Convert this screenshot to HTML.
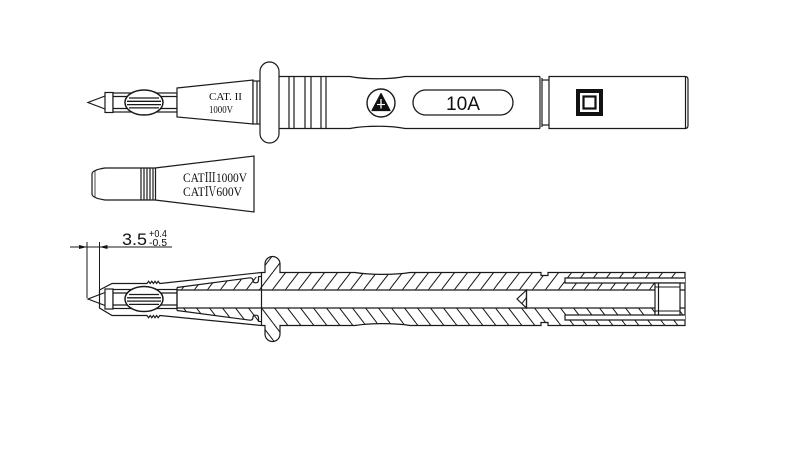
<!DOCTYPE html>
<html><head><meta charset="utf-8"><style>
html,body{margin:0;padding:0;background:#fff;}
svg{display:block;}
</style></head><body>
<svg width="800" height="464" viewBox="0 0 800 464" xmlns="http://www.w3.org/2000/svg">
<defs>
<pattern id="hT" patternUnits="userSpaceOnUse" width="13" height="17"><path d="M0,17 L13,0 M-13,17 L0,0 M13,17 L26,0" stroke="#1a1a1a" stroke-width="1"/></pattern>
<pattern id="hB" patternUnits="userSpaceOnUse" width="13" height="17"><path d="M0,0 L13,17 M-13,0 L0,17 M13,0 L26,17" stroke="#1a1a1a" stroke-width="1"/></pattern>
<g id="pin">
<path d="M105,96 L88,102.5 L105,109" fill="#fff"/>
<rect x="105" y="92.5" width="8" height="20" fill="#fff"/>
<rect x="113" y="93" width="64" height="19" fill="#fff"/>
<line x1="113" y1="96.5" x2="177" y2="96.5"/>
<line x1="113" y1="108.5" x2="177" y2="108.5"/>
<ellipse cx="144" cy="102.5" rx="19" ry="12.5" fill="#fff" stroke-width="1.5"/>
<line x1="129" y1="98" x2="159" y2="98" stroke-width="1.3"/>
<line x1="127" y1="101.3" x2="161" y2="101.3" stroke-width="1.3"/>
<line x1="127" y1="104.6" x2="161" y2="104.6" stroke-width="1.3"/>
<line x1="129" y1="107.9" x2="159" y2="107.9" stroke-width="1.3"/>
</g>
</defs>

<g stroke="#1a1a1a" stroke-width="1.2" fill="none">
<!-- ===== TOP PROBE ===== -->
<use href="#pin"/>
<polygon points="177,88 253,80 253,124 177,117" fill="#fff"/>
<rect x="253" y="81" width="7" height="43" fill="#fff"/>
<line x1="257" y1="81" x2="257" y2="124"/>
<path d="M279,76.5 H350 C365,79.5 390,79.5 405,76.5 H540"/>
<path d="M279,128.5 H350 C365,125.5 390,125.5 405,128.5 H540"/>
<line x1="289" y1="76.5" x2="289" y2="128.5"/>
<line x1="294" y1="76.5" x2="294" y2="128.5"/>
<line x1="305" y1="76.5" x2="305" y2="128.5"/>
<line x1="311" y1="76.5" x2="311" y2="128.5"/>
<line x1="321" y1="76.5" x2="321" y2="128.5"/>
<line x1="326" y1="76.5" x2="326" y2="128.5"/>
<line x1="540" y1="76.5" x2="540" y2="128.5"/>
<line x1="542" y1="78" x2="542" y2="127"/>
<line x1="542" y1="80" x2="549" y2="80"/>
<line x1="542" y1="125" x2="549" y2="125"/>
<path d="M549,76.5 H685 Q688,76.5 688,79.5 V125.5 Q688,128.5 685,128.5 H549 Z"/>
<line x1="685.5" y1="77" x2="685.5" y2="128"/>
<rect x="260" y="62" width="19" height="81" rx="9.5" fill="#fff"/>
<!-- warning -->
<circle cx="381" cy="103" r="14" stroke-width="1.4"/>
<polygon points="381,93.5 372,110.5 390,110.5" fill="#111" stroke="#111" stroke-linejoin="round"/>
<line x1="381" y1="99" x2="381" y2="108.5" stroke="#fff" stroke-width="1.3"/>
<line x1="377" y1="104.5" x2="385" y2="104.5" stroke="#fff" stroke-width="1.1"/>
<rect x="413" y="90" width="100" height="25" rx="12.5" stroke-width="1.3"/>
<!-- double insulation -->
<rect x="576" y="89" width="27" height="27" fill="#111" stroke="none"/>
<rect x="580" y="93" width="19" height="19" fill="#fff" stroke="none"/>
<rect x="583.5" y="96.5" width="12" height="12" fill="none" stroke="#111" stroke-width="2.2"/>

<!-- ===== CAP ===== -->
<path d="M92,174 Q92,170 105,168 H155 L254,156 V212 L155,200 H105 Q92,198 92,194 Z" fill="#fff"/>
<line x1="95" y1="171" x2="95" y2="197" stroke-width="0.8"/>
<line x1="141" y1="168" x2="141" y2="200"/>
<line x1="144" y1="168" x2="144" y2="200"/>
<line x1="147" y1="168" x2="147" y2="200"/>
<line x1="150" y1="168" x2="150" y2="200"/>
<line x1="153" y1="168" x2="153" y2="200"/>
<line x1="155.5" y1="168" x2="155.5" y2="200"/>

<!-- ===== SECTION VIEW ===== -->
<!-- dimension -->
<line x1="70" y1="247" x2="172" y2="247" stroke-width="1"/>
<line x1="87" y1="242" x2="87" y2="298" stroke-width="1"/>
<line x1="99.5" y1="242" x2="99.5" y2="290" stroke-width="1"/>
<polygon points="87,247 79,245 79,249" fill="#111" stroke="none"/>
<polygon points="99.5,247 107.5,245 107.5,249" fill="#111" stroke="none"/>

<!-- hatch regions -->
<path d="M177,287.5 L261.5,276.3 V290 H177 Z" fill="url(#hT)" stroke="none"/>
<path d="M177,310.5 L261.5,321.7 V308 H177 Z" fill="url(#hB)" stroke="none"/>
<path d="M261.5,272.5 H265 V264 A7.5,7.5 0 0 1 280,264 V272.5 H355 C370,275 395,275 410,272.5 H541 V275.5 H548 V272.5 H685 V290 H261.5 Z" fill="url(#hT)" stroke="none"/>
<path d="M261.5,325.5 H265 V334 A7.5,7.5 0 0 0 280,334 V325.5 H355 C370,323 395,323 410,325.5 H541 V322.5 H548 V325.5 H685 V308 H261.5 Z" fill="url(#hB)" stroke="none"/>
<rect x="177" y="290.6" width="508" height="16.8" fill="#fff" stroke="none"/>

<!-- pin -->
<g transform="translate(0,196.5)"><use href="#pin"/></g>

<!-- sheath -->
<path d="M99.5,290 L112,283.5 H147 l1.6,-2.2 l1.6,2.2 l1.6,-2.2 l1.6,2.2 l1.6,-2.2 l1.6,2.2 l1.6,-2.2 l1.6,2.2 H160 L261.5,272.5"/>
<path d="M99.5,290 V308 L112,315.5 H147 l1.6,2.2 l1.6,-2.2 l1.6,2.2 l1.6,-2.2 l1.6,2.2 l1.6,-2.2 l1.6,2.2 l1.6,-2.2 H160 L261.5,325.5"/>
<path d="M177,287.5 L250,277.8 q3,0 3,3 q0,2 3,2 q2.5,0 2.5,-3 V276.7 L261.5,276.3"/>
<path d="M177,310.5 L250,320.2 q3,0 3,-3 q0,-2 3,-2 q2.5,0 2.5,3 V321.3 L261.5,321.7"/>
<line x1="177" y1="287.5" x2="177" y2="310.5"/>
<line x1="261.5" y1="272.5" x2="261.5" y2="325.5"/>

<!-- main body outline -->
<path d="M261.5,272.5 H265 V264 A7.5,7.5 0 0 1 280,264 V272.5 H355 C370,275 395,275 410,272.5 H541 V275.5 H548 V272.5 H685 V325.5 H548 V322.5 H541 V325.5 H410 C395,323 370,323 355,325.5 H280 V334 A7.5,7.5 0 0 1 265,334 V325.5 H261.5"/>
<line x1="177" y1="290" x2="685" y2="290"/>
<line x1="177" y1="308" x2="685" y2="308"/>
<path d="M526.5,290 L517,299 L526.5,308 Z" fill="url(#hT)"/>
<line x1="526.5" y1="290" x2="526.5" y2="308"/>

<!-- right slots -->
<path d="M685,278 H565 V283 H685" fill="#fff"/>
<path d="M685,320 H565 V315 H685" fill="#fff"/>
<rect x="655" y="283" width="25" height="32" fill="#fff"/>
<line x1="658.5" y1="283" x2="658.5" y2="315"/>
<line x1="655" y1="287" x2="680" y2="287" stroke-width="0.9"/>
<line x1="655" y1="311" x2="680" y2="311" stroke-width="0.9"/>
</g>

<!-- texts -->
<g fill="#111" font-family="'Liberation Serif','Noto Serif CJK SC',serif">
<text x="209" y="100" font-size="10" textLength="33" lengthAdjust="spacingAndGlyphs">CAT. II</text>
<text x="209" y="113" font-size="10" textLength="24" lengthAdjust="spacingAndGlyphs">1000V</text>
<text x="183" y="182" font-size="13" textLength="64" lengthAdjust="spacingAndGlyphs">CATⅢ1000V</text>
<text x="183" y="196" font-size="13" textLength="59" lengthAdjust="spacingAndGlyphs">CATⅣ600V</text>
</g>
<g fill="#111" font-family="'Liberation Sans',sans-serif">
<text x="463" y="110" font-size="19" text-anchor="middle" textLength="34" lengthAdjust="spacingAndGlyphs">10A</text>
<text x="122" y="245" font-size="17" textLength="25" lengthAdjust="spacingAndGlyphs">3.5</text>
<text x="149" y="237" font-size="10" textLength="18" lengthAdjust="spacingAndGlyphs">+0.4</text>
<text x="149" y="246" font-size="10" textLength="18" lengthAdjust="spacingAndGlyphs">-0.5</text>
</g>
</svg>
</body></html>
